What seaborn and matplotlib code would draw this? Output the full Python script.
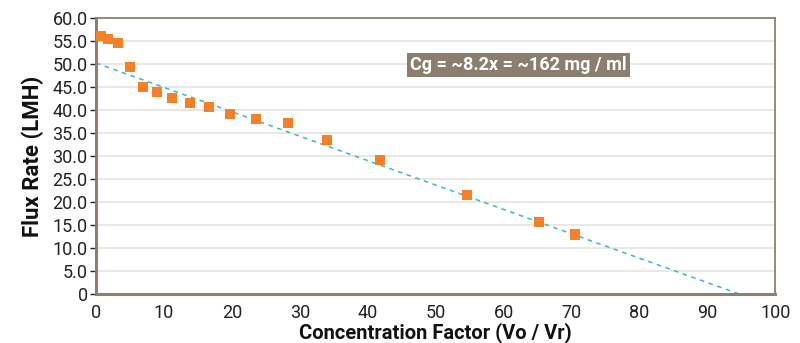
import numpy as np
import pandas as pd
import seaborn as sns
from matplotlib import pyplot as plt
from matplotlib.ticker import FuncFormatter

# measured points (concentration factor vs flux)
conc_factor = [0.7, 1.8, 3.2, 5.0, 6.9, 9.0, 11.2, 13.8, 16.6, 19.7, 23.6, 28.3, 34.0, 41.8, 54.6, 65.2, 70.5]
flux_rate = [56.0, 55.4, 54.5, 49.3, 45.0, 43.9, 42.6, 41.5, 40.6, 39.1, 38.1, 37.2, 33.5, 29.2, 21.5, 15.7, 13.0]

# linear trend line end points
trend_x = [0.0, 94.8]
trend_y = [50.2, 0.0]

note = "Cg = ~8.2x = ~162 mg / ml"

frame = '#8c8072'
orange = '#f58025'
cyan = '#35b7cc'

sns.set_theme(style='white')
plt.rcParams['font.family'] = ['Roboto', 'DejaVu Sans']

df = pd.DataFrame({'cf': conc_factor, 'flux': flux_rate})
trend = pd.DataFrame({'cf': trend_x, 'flux': trend_y})

fig = plt.figure(figsize=(8, 3.43), dpi=100)
ax = fig.add_axes([0.12, 0.142, 0.849, 0.806])

ax.yaxis.grid(True, color='#e8e4de', linewidth=1.2)
ax.set_axisbelow(True)

sns.lineplot(data=trend, x='cf', y='flux', ax=ax, color=cyan, linewidth=1.1,
             linestyle=(0, (3, 3)), zorder=2)
sns.scatterplot(data=df, x='cf', y='flux', ax=ax, color=orange, marker='s', s=55,
                edgecolor='none', zorder=3)

ax.set_xlim(0, 100)
ax.set_ylim(0, 60)
ax.set_xticks(np.arange(0, 101, 10))
ax.set_yticks(np.arange(0, 61, 5))
ax.yaxis.set_major_formatter(FuncFormatter(lambda v, p: '0' if v == 0 else f'{v:.1f}'))

ax.tick_params(axis='y', which='major', left=True, length=4, width=1, color='#222222',
               labelsize=13, labelcolor='#222222', pad=2)
ax.tick_params(axis='x', which='major', bottom=False, labelsize=13, labelcolor='#222222', pad=1)

for side in ['left', 'bottom']:
    ax.spines[side].set_color(frame)
    ax.spines[side].set_linewidth(2.2)
for side in ['top', 'right']:
    ax.spines[side].set_color(frame)
    ax.spines[side].set_linewidth(1.3)

ax.set_xlabel('Concentration Factor (Vo / Vr)', fontsize=14.5, fontweight='bold', color='#111111', labelpad=0)
ax.set_ylabel('Flux Rate (LMH)', fontsize=16, fontweight='bold', color='#111111', labelpad=6)

ax.text(46.2, 49.8, note, fontsize=13, fontweight='bold', color='white', va='center', ha='left',
        bbox=dict(boxstyle='square,pad=0.18', facecolor='#8b7e6f', edgecolor='none'), zorder=4)

plt.savefig('out.png', dpi=100)
